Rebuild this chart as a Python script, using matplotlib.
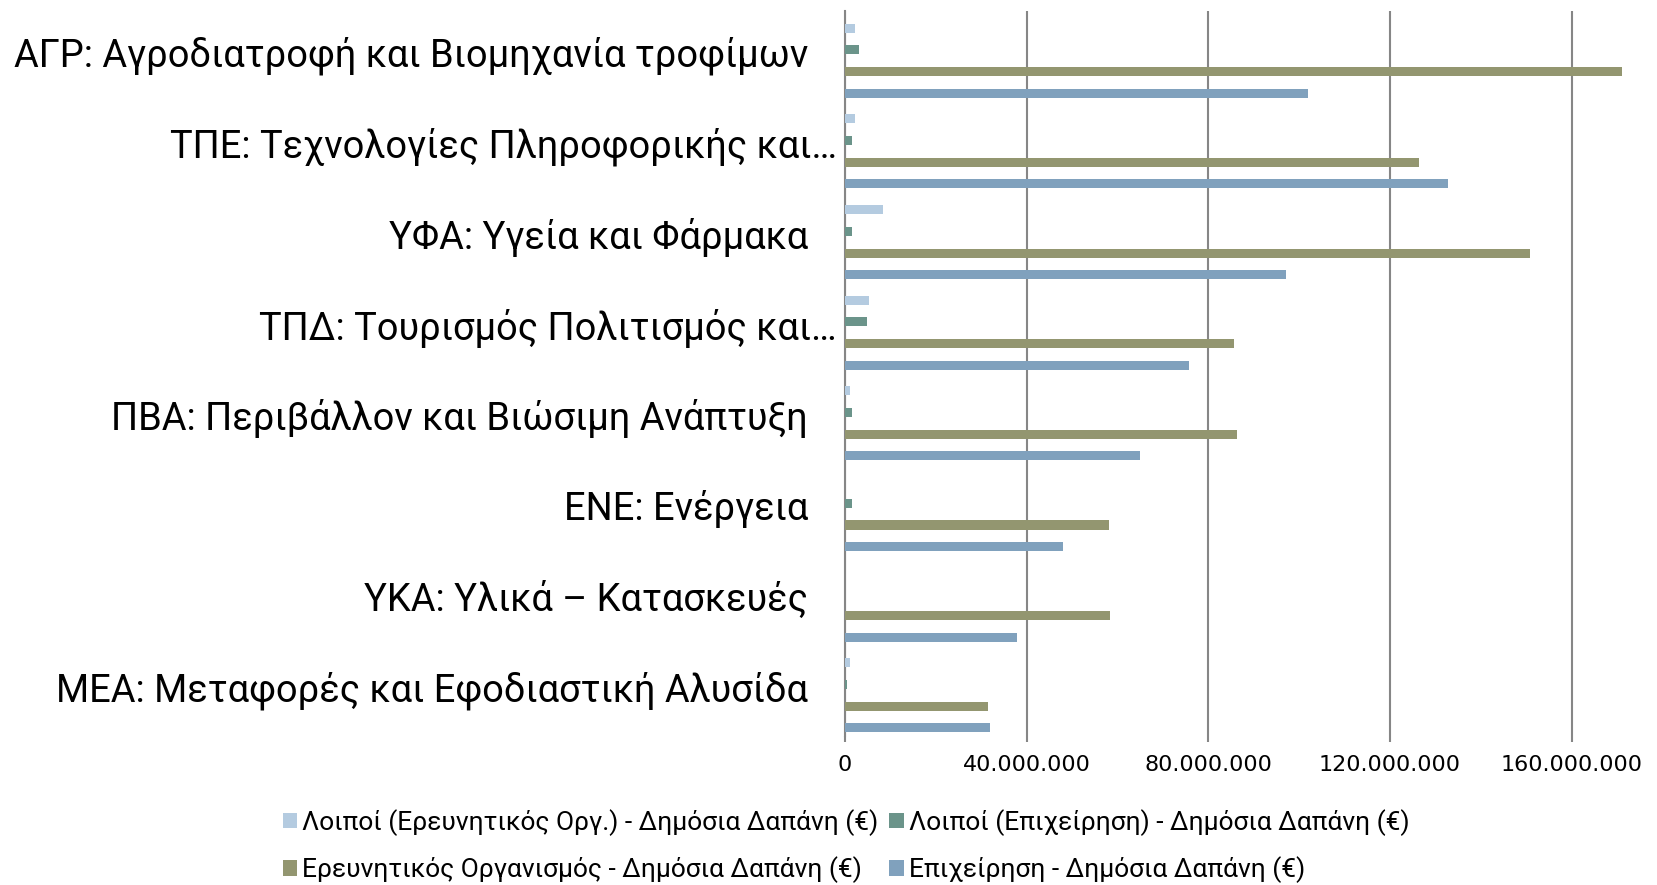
import matplotlib
matplotlib.use("Agg")
import matplotlib.pyplot as plt
from matplotlib.ticker import FuncFormatter
import numpy as np

# ---- data (top to bottom as displayed) ----
categories = [
    "ΑΓΡ: Αγροδιατροφή και Βιομηχανία τροφίμων",
    "ΤΠΕ: Τεχνολογίες Πληροφορικής και…",
    "ΥΦΑ: Υγεία και Φάρμακα",
    "ΤΠΔ: Τουρισμός Πολιτισμός και…",
    "ΠΒΑ: Περιβάλλον και Βιώσιμη Ανάπτυξη",
    "ΕΝΕ: Ενέργεια",
    "ΥΚΑ: Υλικά – Κατασκευές",
    "ΜΕΑ: Μεταφορές και Εφοδιαστική Αλυσίδα",
]
series_names = [
    "Λοιποί (Ερευνητικός Οργ.) - Δημόσια Δαπάνη (€)",
    "Λοιποί (Επιχείρηση) - Δημόσια Δαπάνη (€)",
    "Ερευνητικός Οργανισμός - Δημόσια Δαπάνη (€)",
    "Επιχείρηση - Δημόσια Δαπάνη (€)",
]
loipoi_erevn = [2.1e6, 2.1e6, 8.4e6, 5.3e6, 1.0e6, 0.0, 0.0, 1.0e6]
loipoi_epix = [3.1e6, 1.5e6, 1.5e6, 4.9e6, 1.5e6, 1.5e6, 0.0, 0.35e6]
erevn_org = [171.0e6, 126.3e6, 150.8e6, 85.7e6, 86.4e6, 58.1e6, 58.4e6, 31.4e6]
epixeirisi = [102.0e6, 132.8e6, 97.0e6, 75.7e6, 64.9e6, 47.9e6, 37.9e6, 31.9e6]
x_ticks = [0, 40e6, 80e6, 120e6, 160e6]

colors = ["#B4CBE0", "#6B948A", "#939670", "#80A1BD"]
series = [loipoi_erevn, loipoi_epix, erevn_org, epixeirisi]

W, H = 1657, 885
fig = plt.figure(figsize=(W / 100, H / 100), dpi=100)
ax_left = 845 / W
ax_top = 1 - 10.7 / H
ax_bot = 1 - 736 / H
ax = fig.add_axes([ax_left, ax_bot, 1.0 - ax_left, ax_top - ax_bot])

offsets = [0.194, 0.433, 0.673, 0.911]
bar_h = 0.1
idx = np.arange(len(categories))
handles = []
for vals, col, off, name in zip(series, colors, offsets, series_names):
    h = ax.barh(idx + off, vals, height=bar_h, color=col, label=name,
                edgecolor="none", zorder=3)
    handles.append(h)

ax.set_ylim(len(categories), 0)
ax.set_xlim(0, 178.8e6)
ax.set_xticks(x_ticks)
ax.xaxis.set_major_formatter(FuncFormatter(lambda v, p: f"{int(round(v)):,}".replace(",", ".")))
ax.set_yticks([])
ax.grid(axis="x", color="#868686", linewidth=1.5, zorder=0)
for s in ["top", "right", "bottom"]:
    ax.spines[s].set_visible(False)
ax.spines["left"].set_color("#868686")
ax.spines["left"].set_linewidth(1.5)
ax.tick_params(axis="x", length=4, width=1.5, color="#868686", pad=10,
               labelsize=16, labelcolor="black")
for lab in ax.get_xticklabels():
    lab.set_fontfamily(["DejaVu Sans"])

label_font = ["Roboto", "DejaVu Sans"]
for i, cat in enumerate(categories):
    xr = 837 / W if cat.endswith("…") else 808 / W
    yc = 1 - (10.7 + (i + 0.5) * 90.66) / H
    fig.text(xr, yc, cat, ha="right", va="center", fontsize=27.4,
             family=label_font, color="black")

order = [0, 2, 1, 3]
fig.legend([handles[k] for k in order], [series_names[k] for k in order],
           loc="center", bbox_to_anchor=(0.5106, 0.044), ncol=2,
           frameon=False, prop={"family": label_font, "size": 19},
           handlelength=0.55, handleheight=0.55, handletextpad=0.2,
           columnspacing=0.4, labelspacing=0.78, borderpad=0)

fig.savefig("out.png", dpi=100)
